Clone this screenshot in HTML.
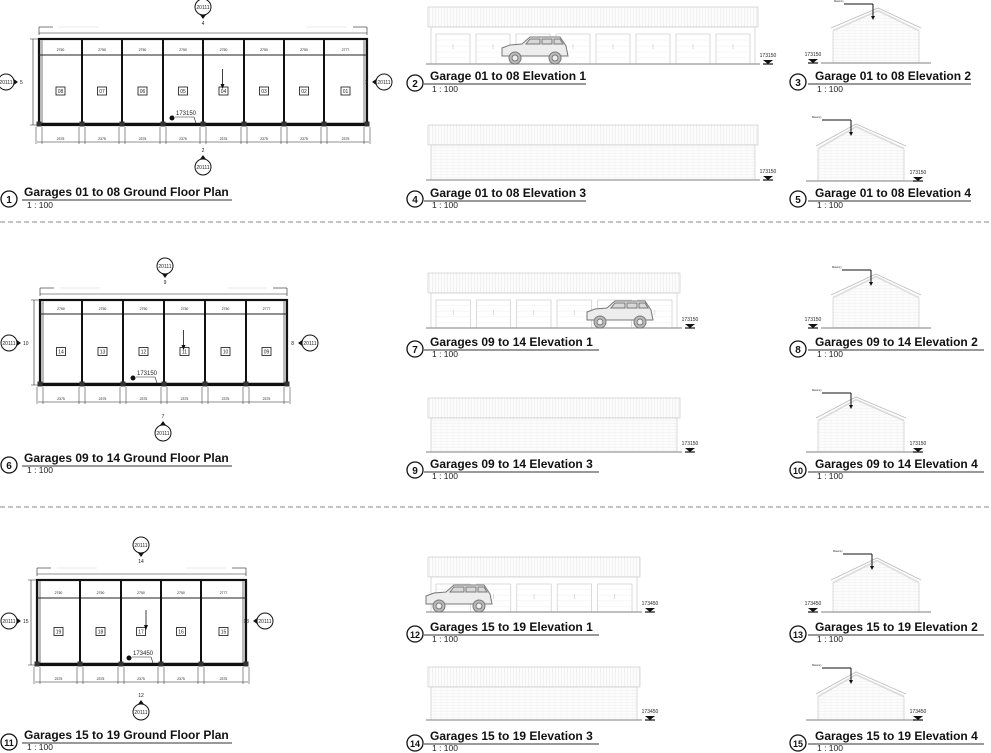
<!DOCTYPE html>
<html><head><meta charset="utf-8">
<style>
html,body{margin:0;padding:0;background:#fff;}
svg{display:block;font-family:"Liberation Sans",Arial,sans-serif;}
.t{font-weight:bold;font-size:12px;fill:#111;}
.s{font-size:8.5px;fill:#222;}
.c{font-size:10px;font-weight:bold;fill:#111;}
</style></head><body>
<svg id="s" width="991" height="753" viewBox="0 0 991 753" xmlns="http://www.w3.org/2000/svg">
<defs>
<pattern id="roof" width="3" height="20" patternUnits="userSpaceOnUse"><rect width="3" height="20" fill="#fcfcfc"/><line x1="0.5" y1="0" x2="0.5" y2="20" stroke="#e6e6e6" stroke-width="0.5"/></pattern>
<pattern id="brick" width="6" height="3" patternUnits="userSpaceOnUse"><rect width="6" height="3" fill="#fcfcfc"/><line x1="0" y1="0.2" x2="6" y2="0.2" stroke="#e8e8e8" stroke-width="0.4"/><line x1="3" y1="0" x2="3" y2="3" stroke="#f0f0f0" stroke-width="0.3"/></pattern>
</defs>
<g stroke="#888" stroke-dasharray="5,3" stroke-width="1">
<line x1="0" y1="222" x2="991" y2="222"/><line x1="0" y1="507" x2="991" y2="507"/>
</g>

<g>
<circle cx="9" cy="199" r="8" fill="#fff" stroke="#111" stroke-width="1.3"/><text class="c" x="9" y="203" text-anchor="middle">1</text>
<text class="t" x="24" y="196">Garages 01 to 08 Ground Floor Plan</text><line x1="22" y1="200" x2="232" y2="200" stroke="#333"/><text class="s" x="27" y="208">1 : 100</text>

<circle cx="415" cy="83" r="8" fill="#fff" stroke="#111" stroke-width="1.3"/><text class="c" x="415" y="87" text-anchor="middle">2</text>
<text class="t" x="430" y="80">Garage 01 to 08 Elevation 1</text><line x1="424" y1="84" x2="586" y2="84" stroke="#333"/><text class="s" x="432" y="92">1 : 100</text>

<circle cx="798" cy="82" r="8" fill="#fff" stroke="#111" stroke-width="1.3"/><text class="c" x="798" y="86" text-anchor="middle">3</text>
<text class="t" x="815" y="80">Garage 01 to 08 Elevation 2</text><line x1="808" y1="84" x2="971" y2="84" stroke="#333"/><text class="s" x="817" y="92">1 : 100</text>

<circle cx="415" cy="199" r="8" fill="#fff" stroke="#111" stroke-width="1.3"/><text class="c" x="415" y="203" text-anchor="middle">4</text>
<text class="t" x="430" y="197">Garage 01 to 08 Elevation 3</text><line x1="424" y1="201" x2="586" y2="201" stroke="#333"/><text class="s" x="432" y="208">1 : 100</text>

<circle cx="798" cy="199" r="8" fill="#fff" stroke="#111" stroke-width="1.3"/><text class="c" x="798" y="203" text-anchor="middle">5</text>
<text class="t" x="815" y="197">Garage 01 to 08 Elevation 4</text><line x1="808" y1="201" x2="971" y2="201" stroke="#333"/><text class="s" x="817" y="208">1 : 100</text>

<circle cx="9" cy="465" r="8" fill="#fff" stroke="#111" stroke-width="1.3"/><text class="c" x="9" y="469" text-anchor="middle">6</text>
<text class="t" x="24" y="462">Garages 09 to 14 Ground Floor Plan</text><line x1="22" y1="466" x2="232" y2="466" stroke="#333"/><text class="s" x="27" y="473">1 : 100</text>

<circle cx="415" cy="349" r="8" fill="#fff" stroke="#111" stroke-width="1.3"/><text class="c" x="415" y="353" text-anchor="middle">7</text>
<text class="t" x="430" y="346">Garages 09 to 14 Elevation 1</text><line x1="424" y1="350" x2="599" y2="350" stroke="#333"/><text class="s" x="432" y="357">1 : 100</text>

<circle cx="798" cy="349" r="8" fill="#fff" stroke="#111" stroke-width="1.3"/><text class="c" x="798" y="353" text-anchor="middle">8</text>
<text class="t" x="815" y="346">Garages 09 to 14 Elevation 2</text><line x1="808" y1="350" x2="984" y2="350" stroke="#333"/><text class="s" x="817" y="357">1 : 100</text>

<circle cx="415" cy="470" r="8" fill="#fff" stroke="#111" stroke-width="1.3"/><text class="c" x="415" y="474" text-anchor="middle">9</text>
<text class="t" x="430" y="468">Garages 09 to 14 Elevation 3</text><line x1="424" y1="472" x2="599" y2="472" stroke="#333"/><text class="s" x="432" y="479">1 : 100</text>

<circle cx="798" cy="470" r="8" fill="#fff" stroke="#111" stroke-width="1.3"/><text class="c" x="798" y="474" text-anchor="middle" style="font-size:9px">10</text>
<text class="t" x="815" y="468">Garages 09 to 14 Elevation 4</text><line x1="808" y1="472" x2="984" y2="472" stroke="#333"/><text class="s" x="817" y="479">1 : 100</text>

<circle cx="9" cy="742" r="8" fill="#fff" stroke="#111" stroke-width="1.3"/><text class="c" x="9" y="746" text-anchor="middle" style="font-size:9px">11</text>
<text class="t" x="24" y="739">Garages 15 to 19 Ground Floor Plan</text><line x1="22" y1="743" x2="232" y2="743" stroke="#333"/><text class="s" x="27" y="750">1 : 100</text>

<circle cx="415" cy="634" r="8" fill="#fff" stroke="#111" stroke-width="1.3"/><text class="c" x="415" y="638" text-anchor="middle" style="font-size:9px">12</text>
<text class="t" x="430" y="631">Garages 15 to 19 Elevation 1</text><line x1="424" y1="635" x2="599" y2="635" stroke="#333"/><text class="s" x="432" y="642">1 : 100</text>

<circle cx="798" cy="634" r="8" fill="#fff" stroke="#111" stroke-width="1.3"/><text class="c" x="798" y="638" text-anchor="middle" style="font-size:9px">13</text>
<text class="t" x="815" y="631">Garages 15 to 19 Elevation 2</text><line x1="808" y1="635" x2="984" y2="635" stroke="#333"/><text class="s" x="817" y="642">1 : 100</text>

<circle cx="415" cy="743" r="8" fill="#fff" stroke="#111" stroke-width="1.3"/><text class="c" x="415" y="747" text-anchor="middle" style="font-size:9px">14</text>
<text class="t" x="430" y="740">Garages 15 to 19 Elevation 3</text><line x1="424" y1="744" x2="599" y2="744" stroke="#333"/><text class="s" x="432" y="751">1 : 100</text>

<circle cx="798" cy="743" r="8" fill="#fff" stroke="#111" stroke-width="1.3"/><text class="c" x="798" y="747" text-anchor="middle" style="font-size:9px">15</text>
<text class="t" x="815" y="740">Garages 15 to 19 Elevation 4</text><line x1="808" y1="744" x2="984" y2="744" stroke="#333"/><text class="s" x="817" y="751">1 : 100</text>
</g>
<g id="dyn"></g>
</svg>
<script>
var g=document.getElementById('dyn'),o='';
function L(a,b,c,d,w,col){o+='<line x1="'+a+'" y1="'+b+'" x2="'+c+'" y2="'+d+'" stroke="'+(col||'#222')+'" stroke-width="'+(w||0.6)+'"/>';}
function T(x,y,s,sz,anc){o+='<text x="'+x+'" y="'+y+'" font-size="'+sz+'" fill="#222" text-anchor="'+(anc||'middle')+'">'+s+'</text>';}
function R(x,y,w,h,f,st,sw){o+='<rect x="'+x+'" y="'+y+'" width="'+w+'" height="'+h+'" fill="'+(f||'none')+'" stroke="'+(st||'none')+'" stroke-width="'+(sw||0.6)+'"/>';}
function marker(cx,cy,dir){
 var p;
 if(dir=='down')p=(cx-5)+','+(cy+5)+' '+cx+','+(cy+12)+' '+(cx+5)+','+(cy+5);
 if(dir=='up')p=(cx-5)+','+(cy-5)+' '+cx+','+(cy-12)+' '+(cx+5)+','+(cy-5);
 if(dir=='right')p=(cx+5)+','+(cy-5)+' '+(cx+12)+','+cy+' '+(cx+5)+','+(cy+5);
 if(dir=='left')p=(cx-5)+','+(cy-5)+' '+(cx-12)+','+cy+' '+(cx-5)+','+(cy+5);
 o+='<polygon points="'+p+'" fill="#111"/>';
 o+='<circle cx="'+cx+'" cy="'+cy+'" r="8" fill="#fff" stroke="#111" stroke-width="1"/>';
 T(cx,cy+1.8,'20111',5);
}
function plan(xs,y0,y1,band,labels,tc,bc,lc,rc,lvx,lv){
 var x0=xs[0],x1=xs[xs.length-1],n=xs.length-1;
 L(x0,y0-6,x1,y0-6,0.6);
 L(x0,y0-12,x0,y0-4,0.6);L(x1,y0-12,x1,y0-4,0.6);L(x0,y0-12,x0+14,y0-12,0.6);L(x1,y0-12,x1-14,y0-12,0.6);
 L(x0+20,y0-12,x0+60,y0-12,0.3,'#bbb');L(x1-60,y0-12,x1-20,y0-12,0.3,'#bbb');
 L(x0-6,y0,x0-6,y1,0.6);L(x0-9,y0,x0,y0,0.5);L(x0-9,y1,x0,y1,0.5);
 R(x0,y0,x1-x0,y1-y0,'#fff','#111',2.2);
 R(x0+1,y0+1,3,y1-y0-2,'#bbb','none');R(x1-4,y0+1,3,y1-y0-2,'#bbb','none');
 L(x0,band,x1,band,1,'#222');
 for(var i=1;i<n;i++){L(xs[i],y0,xs[i],y1,2,'#111');}
 L(x0,y1-1,x1,y1-1,2.6,'#111');
 for(i=0;i<=n;i++){R(xs[i]-2.5,y1-3.5,5,5,'#333');}
 for(i=0;i<n;i++){var cx=(xs[i]+xs[i+1])/2;T(cx,band-4,i==n-1?'2777':'2750',3.5);
  R(cx-4.5,(y0+y1)/2+5,9,8,'#fff','#111',0.8);T(cx,(y0+y1)/2+11,labels[i],5);}
 var yd=y1+17;L(x0-2,yd,x1+2,yd,0.6);
 for(i=0;i<=n;i++){L(xs[i]-3,y1+2,xs[i]-3,yd+2,0.5);L(xs[i]+3,y1+2,xs[i]+3,yd+2,0.5);}
 for(i=0;i<n;i++){T((xs[i]+xs[i+1])/2,yd-2,'2375',3.5);}
 o+='<circle cx="'+lvx+'" cy="'+(y1-7)+'" r="2.5" fill="#111"/>';
 T(lvx+4,y1-10,lv,6,'start');L(lvx+3,y1-8,lvx+22,y1-8,0.6);L(lvx+22,y1-8,lvx+24,y1-2,0.6);
 var ax=(xs[Math.floor(n/2)]+xs[Math.floor(n/2)+1])/2+ (n%2?0:-6);
 L(ax+5,y0+30,ax+5,y0+48,0.8,'#111');o+='<polygon points="'+(ax+3)+','+(y0+45)+' '+(ax+7)+','+(y0+45)+' '+(ax+5)+','+(y0+50)+'" fill="#111"/>';
 marker(tc[0],tc[1],'down');T(tc[0],tc[1]+18,tc[2],5);
 marker(bc[0],bc[1],'up');T(bc[0],bc[1]-15,bc[2],5);
 marker(lc[0],lc[1],'right');T(lc[0]+14,lc[1]+2,lc[2],5,'start');
 marker(rc[0],rc[1],'left');T(rc[0]-16,rc[1]+2,rc[2],5,'end');
}
function car(x,y,w){
 var s=w/70;
 o+='<g transform="translate('+x+','+y+') scale('+s+')" fill="#ededed" stroke="#777" stroke-width="1">'+
 '<path d="M2,-8 L2,-16 L10,-19 L22,-20 L30,-27 L60,-27 L66,-18 L68,-8 Z"/>'+
 '<path d="M30,-25 L26,-20 L40,-20 L40,-25 Z M42,-25 L42,-20 L52,-20 L52,-25 Z M54,-25 L54,-20 L63,-20 L60,-25 Z" fill="#d8d8d8"/>'+
 '<circle cx="15" cy="-6" r="6" fill="#bbb"/><circle cx="55" cy="-6" r="6" fill="#bbb"/><circle cx="15" cy="-6" r="3" fill="#eee"/><circle cx="55" cy="-6" r="3" fill="#eee"/></g>';
}
function level(x,y,lv){T(x+8,y-4,lv,5);o+='<polygon points="'+(x+3)+','+(y-1)+' '+(x+13)+','+(y-1)+' '+(x+8)+','+(y+3)+'" fill="#111"/>';L(x+3,y+3,x+13,y+3,1.2,'#111');}
function elev(x0,x1,yr,ye,yg,nd,carx,lv,doors){
 R(x0,yr,x1-x0,ye-yr,'url(#roof)','#c4c4c4',0.6);
 R(x0+3,ye,x1-x0-6,yg-ye,doors?'#fff':'url(#brick)','#c4c4c4',0.6);
 if(doors){var w=(x1-x0-10)/nd;for(var i=0;i<nd;i++){var dx=x0+6+i*w;R(dx+2,ye+7,w-6,yg-ye-7,'#fff','#c4c4c4',0.6);
   for(var k=1;k<5;k++)L(dx+2,ye+7+k*(yg-ye-7)/5,dx+w-4,ye+7+k*(yg-ye-7)/5,0.3,'#e4e4e4');L(dx+w/2-1,ye+17,dx+w/2-1,ye+22,0.4,'#aaa');}}
 L(x0-2,yg,x1+2,yg,1.2,'#999');
 if(carx)car(carx,yg,70);
 level(x1+2,yg-3,lv);
}
function gable(xl,xr,apx,apy,ey,yg,lv,lvx){
 o+='<polygon points="'+(xl+2)+','+(ey+3)+' '+apx+','+(apy+3)+' '+(xr-2)+','+(ey+3)+' '+(xr-2)+','+yg+' '+(xl+2)+','+yg+'" fill="url(#brick)" stroke="#c4c4c4" stroke-width="0.6"/>';
 o+='<polyline points="'+xl+','+ey+' '+apx+','+apy+' '+xr+','+ey+'" fill="none" stroke="#bbb" stroke-width="0.8"/>';
 o+='<polyline points="'+(xl+2)+','+(ey+2)+' '+apx+','+(apy+2)+' '+(xr-2)+','+(ey+2)+'" fill="none" stroke="#ccc" stroke-width="0.5"/>';
 L(xl-10,yg,xr+10,yg,1.2,'#999');
 L(apx-34,apy-4,apx-5,apy-4,1,'#111');L(apx-5,apy-4,apx-5,apy+10,1,'#111');
 o+='<polygon points="'+(apx-7)+','+(apy+8)+' '+(apx-3)+','+(apy+8)+' '+(apx-5)+','+(apy+12)+'" fill="#111"/>';
 T(apx-44,apy-6,'Masonry',2.5,'start');
 level(lvx,yg-3,lv);
}
plan([39,82,122,163,203,244,284,324,367],39,125,55,['08','07','06','05','04','03','02','01'],[203,7,'4'],[203,167,'2'],[6,82,'5'],[384,82,'3'],172,'173150');
elev(428,758,7,27,64,8,500,'173150',true);
gable(831,921,878,8,28,63,'173150',805);
elev(428,758,125,145,180,0,0,'173150',false);
gable(816,906,856,124,146,181,'173150',910);
plan([40,82,123,164,205,246,287],300,385,314,['14','13','12','11','10','09'],[165,266,'9'],[163,433,'7'],[9,343,'10'],[310,343,'8'],133,'173150');
elev(428,680,273,293,328,6,585,'173150',true);
gable(831,921,876,274,295,328,'173150',805);
elev(428,680,398,418,452,0,0,'173150',false);
gable(816,906,856,397,418,452,'173150',910);
plan([37,80,121,161,201,246],580,665,598,['19','18','17','16','15'],[141,545,'14'],[141,712,'12'],[9,621,'15'],[265,621,'13'],129,'173450');
elev(428,640,557,577,612,5,424,'173450',true);
gable(831,921,877,558,580,612,'173450',805);
elev(428,640,667,687,720,0,0,'173450',false);
gable(816,906,856,672,694,720,'173450',910);
g.innerHTML=o;
</script>
</body></html>
